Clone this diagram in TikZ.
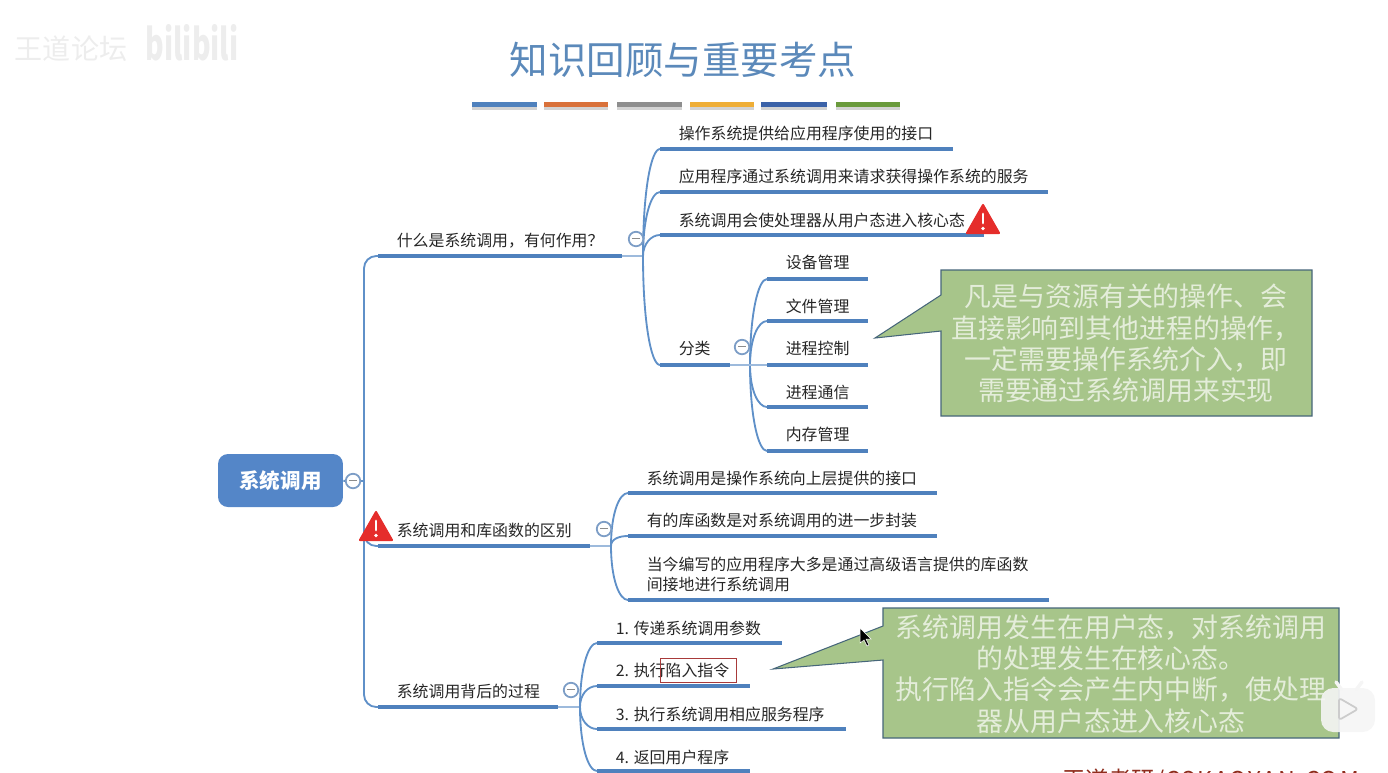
\documentclass[tikz,border=0pt]{standalone}
\usepackage{fontspec}
\setmainfont{Noto Sans CJK SC}
\usetikzlibrary{shadows}

\definecolor{barblue}{HTML}{4F81BD}
\definecolor{linkblue}{HTML}{5F90C8}
\definecolor{stubblue}{HTML}{9DBADC}
\definecolor{foldblue}{HTML}{7C9DC6}
\definecolor{rootblue}{HTML}{5486C8}
\definecolor{titleblue}{HTML}{5B89BA}
\definecolor{noteback}{HTML}{A7C58A}
\definecolor{noteline}{HTML}{46667A}
\definecolor{notetext}{HTML}{E4EDDA}
\definecolor{warnred}{HTML}{E52D2B}
\definecolor{trapred}{HTML}{A83A3A}
\definecolor{markred}{HTML}{8F2C1C}

\tikzset{
    bar/.style={draw=barblue, line width=2.5pt},
    link/.style={draw=linkblue, line width=1.05pt},
    stub/.style={draw=stubblue, line width=0.8pt},
    leaf/.style={anchor=west, inner sep=0pt, align=left, yshift=-0.3pt, xshift=-0.3pt, text=black!85, font=\fontsize{9.05}{11.3}\selectfont},
    fold/.style={circle, draw=foldblue, line width=1pt, fill=white, minimum size=0.29cm, inner sep=0pt},
    note/.style={fill=noteback, draw=noteline, line width=0.6pt},
    notetxt/.style={align=center, inner sep=0pt, text=notetext, font=\fontsize{15.3}{17.8}\selectfont},
    ribbon/.style={drop shadow={shadow xshift=0pt, shadow yshift=-1.6pt, opacity=0.35}},
    warnsign/.pic={
        \fill[warnred, draw=warnred, line width=1.2pt, line join=round] (-16,14) -- (0,-14) -- (16,14) -- cycle;
        \draw[white, line width=1.6pt, line cap=round] (0,-5) -- (0,4);
        \fill[white] (0,9.5) circle (1.8);
    }
}

\newcommand{\foldbar}{\textcolor{black!45}{\rule[0.6pt]{4.2pt}{0.9pt}}}

\begin{document}
\begin{tikzpicture}[x=0.02cm, y=-0.02cm]
    \useasboundingbox (0,0) rectangle (1388,772);

    % title
    \node[text=titleblue, font=\fontsize{21.9}{24}\selectfont] (heading) at (683,60) {知识回顾与重要考点};
    \foreach \xa/\xb/\col in {472/537/4F81BD, 544/608/D9713A, 617/682/8E8E8E, 690/754/EFAE36, 761/827/3B62A8, 836/900/6A9A3C} {
        \definecolor{ribboncol}{HTML}{\col}
        \fill[ribboncol, ribbon] (\xa,102) rectangle (\xb,107);
    }

    % root and first level
    \node[fill=rootblue, rounded corners=0.2cm, minimum width=2.5cm, minimum height=1.06cm, inner sep=0pt,
        text=white, font=\fontsize{11.7}{13}\selectfont\bfseries] (root) at (280.5,480.5) {\raisebox{-1pt}{系统调用}};
    \coordinate (hubA) at (364,481);
    \draw[link] (root) -- (hubA);

    \foreach \n/\xa/\xb/\y/\ty/\txt in {
        what/378/622/256/240/什么是系统调用，有何作用？,
        diff/378/590/546/530/系统调用和库函数的区别,
        back/378/558/707/691/系统调用背后的过程} {
        \coordinate (\n) at (\xa,\y);
        \coordinate (\n-end) at (\xb,\y);
        \draw[bar] (\n) -- (\n-end);
        \node[leaf] (\n-txt) at (\xa+19,\ty) {\txt};
        \draw[link, rounded corners=7pt] (hubA) |- (\n);
    }

    % second level
    \coordinate (hubB) at (643,256);
    \coordinate (hubC) at (750,365);
    \coordinate (hubD) at (611,546);
    \coordinate (hubE) at (580,707);
    \draw[stub] (what-end) -- (hubB);
    \draw[stub] (diff-end) -- (hubD);
    \draw[stub] (back-end) -- (hubE);

    \foreach \n/\hub/\d/\xa/\xb/\y/\ty/\txt in {
        qa/hubB/-65/660/953/149/133/操作系统提供给应用程序使用的接口,
        qb/hubB/-38/660/1048/192/176/应用程序通过系统调用来请求获得操作系统的服务,
        qc/hubB/-12/660/984/235/220/系统调用会使处理器从用户态进入核心态,
        qd/hubB/65/660/730/365/348/分类,
        ka/hubC/-50/767/868/279/262/设备管理,
        kb/hubC/-26/767/868/321/306/文件管理,
        kc/hubC/0/767/868/365/348/进程控制,
        kd/hubC/25/767/868/407/392/进程通信,
        ke/hubC/50/767/868/451/434/内存管理,
        da/hubD/-32/628/937/493/478/系统调用是操作系统向上层提供的接口,
        db/hubD/-7/628/937/536/520/有的库函数是对系统调用的进一步封装,
        dc/hubD/32/628/1049/600/574/{当今编写的应用程序大多是通过高级语言提供的库函数\\间接地进行系统调用},
        sa/hubE/-38/597/782/643/628/1. 传递系统调用参数,
        sb/hubE/-13/597/750/686/670/2. 执行陷入指令,
        sc/hubE/13/597/846/729/714/3. 执行系统调用相应服务程序,
        sd/hubE/38/597/750/771/757/4. 返回用户程序} {
        \coordinate (\n) at (\xa,\y);
        \draw[bar] (\n) -- (\xb,\y);
        \node[leaf] (\n-txt) at (\xa+19,\ty) {\txt};
        \draw[link] (\hub) .. controls +(0,\d) and +(-9,0) .. (\n);
    }
    \coordinate (qd-end) at (730,365);
    \draw[stub] (qd-end) -- (kc);

    % fold marks
    \node[fold] (foldA) at (353,481) {\foldbar};
    \node[fold] (foldB) at (636,239) {\foldbar};
    \node[fold] (foldC) at (742,347) {\foldbar};
    \node[fold] (foldD) at (604,529) {\foldbar};
    \node[fold] (foldE) at (571,690) {\foldbar};

    \pic at (983,219) {warnsign};
    \pic at (376,526) {warnsign};

    \draw[draw=trapred, line width=0.45pt] (660,658) rectangle (736,682) node[pos=.5] (trapbox) {};

    % callouts
    \draw[note] (941,270) -- (1312,270) -- (1312,416) -- (941,416) -- (941,331) -- (875,338) -- (941,295) -- cycle;
    \node[notetxt] (notea) at (1126,343.5) {凡是与资源有关的操作、会\\直接影响到其他进程的操作，\\一定需要操作系统介入，即\\需要通过系统调用来实现};

    \draw[note] (883,608) -- (1339,608) -- (1339,738) -- (883,738) -- (883,660) -- (773,669) -- (883,626) -- cycle;
    \node[notetxt] (noteb) at (1111,674) {系统调用发生在用户态，对系统调用\\的处理发生在核心态。\\执行陷入指令会产生内中断，使处理\\器从用户态进入核心态};

    % mouse pointer
    \fill[black, draw=white, line width=0.3pt] (860,628) -- (860,643) -- (864,640) -- (867,646) -- (869,645) -- (866,639) -- (871,639) -- cycle;

    % video marks
    \node[text=black!7, font=\fontsize{16}{18}\selectfont] (markwd) at (71,49) {王道论坛};
    \node[text=black!7, font=\fontsize{19}{21}\selectfont\bfseries] (markbl) at (192,43) {\scalebox{0.85}[1.3]{bilibili}};
    \node[anchor=west, inner sep=0pt, text=markred, font=\fontsize{13.2}{15}\selectfont] (markcs) at (1062,781) {王道考研{\addfontfeatures{LetterSpace=8}/CSKAOYAN.COM}};

    \draw[black!4, line width=2pt, line cap=round] (1336,682) -- (1342,690) (1362,682) -- (1356,690);
    \fill[black!4, opacity=0.9, rounded corners=7pt] (1321,688) rectangle (1375,732);
    \draw[black!20, line width=1pt, line join=round, rounded corners=1.5pt] (1339,698) -- (1358,709) -- (1339,720) -- cycle;
\end{tikzpicture}
\end{document}
